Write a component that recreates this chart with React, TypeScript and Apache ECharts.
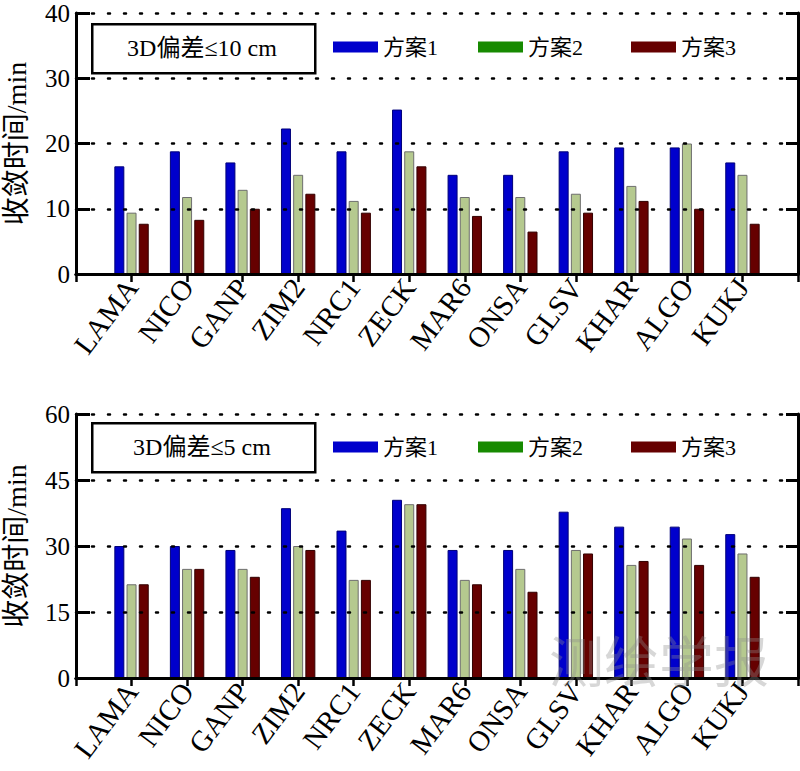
import React, { useEffect, useRef } from "react";
import * as echarts from "echarts";

const stations = ["LAMA", "NICO", "GANP", "ZIM2", "NRC1", "ZECK", "MAR6", "ONSA", "GLSV", "KHAR", "ALGO", "KUKJ"];
const seriesNames = ["方案1", "方案2", "方案3"];

// 3D bias <= 10 cm
const top1 = [16.5, 18.8, 17.1, 22.3, 18.8, 25.2, 15.2, 15.2, 18.8, 19.4, 19.4, 17.1];
const top2 = [9.4, 11.8, 12.9, 15.2, 11.2, 18.8, 11.8, 11.8, 12.3, 13.5, 20.0, 15.2];
const top3 = [7.7, 8.3, 10.0, 12.3, 9.4, 16.5, 8.9, 6.5, 9.4, 11.2, 10.0, 7.7];

// 3D bias <= 5 cm
const bot1 = [30.0, 30.0, 29.1, 38.6, 33.5, 40.5, 29.1, 29.1, 37.8, 34.4, 34.4, 32.7];
const bot2 = [21.3, 24.8, 24.8, 30.0, 22.3, 39.5, 22.3, 24.8, 29.1, 25.7, 31.7, 28.3];
const bot3 = [21.3, 24.8, 23.0, 29.1, 22.3, 39.5, 21.3, 19.6, 28.3, 26.6, 25.7, 23.0];

const titles = ["3D偏差≤10 cm", "3D偏差≤5 cm"];
const yTicks = [
  { max: 40, interval: 10 },
  { max: 60, interval: 15 },
];

const SERIF = "'Times New Roman', 'Liberation Serif', 'Noto Sans CJK SC', serif";
const barColors = ["#0000cc", "#b5c98f", "#660000"];
const barBorders = ["#00007a", "#6e6e6e", "#330000"];
const legendColors = ["#0000cc", "#178a00", "#660000"];

export default function App() {
  const ref = useRef<HTMLDivElement>(null);
  useEffect(() => {
    if (!ref.current) return;
    const chart = echarts.init(ref.current, undefined, { renderer: "svg" });
    const cats = ["", ...stations, ""];
    const pad = (arr: number[]) => ["-", ...arr, "-"];
    const grids = [
      { left: 76, right: 2, top: 13, height: 261, outerBoundsMode: "none", containLabel: false },
      { left: 76, right: 2, top: 414, height: 264, outerBoundsMode: "none", containLabel: false },
    ];
    const xAxis: any[] = [];
    const yAxis: any[] = [];
    grids.forEach((_, gi) => {
      xAxis.push({
        type: "category",
        gridIndex: gi,
        data: cats,
        boundaryGap: false,
        position: "bottom",
        axisLine: { lineStyle: { color: "#000", width: 3 } },
        axisTick: { show: false },
        axisLabel: {
          interval: 0,
          rotate: 53,
          fontFamily: SERIF,
          fontSize: 29,
          color: "#000",
          margin: 8,
        },
        splitLine: { show: false },
        z: 5,
      });
      xAxis.push({
        type: "category",
        gridIndex: gi,
        data: cats,
        boundaryGap: false,
        position: "top",
        axisLine: { lineStyle: { color: "#000", width: 3 } },
        axisTick: { show: true, inside: true, length: 8, lineStyle: { color: "#000", width: 2.5 } },
        axisLabel: { show: false },
        splitLine: { show: false },
        z: 5,
      });
      yAxis.push({
        type: "value",
        gridIndex: gi,
        min: 0,
        max: yTicks[gi].max,
        interval: yTicks[gi].interval,
        position: "left",
        name: "收敛时间/min",
        nameLocation: "middle",
        nameGap: 46,
        nameTextStyle: { fontFamily: SERIF, fontSize: 28, color: "#000" },
        axisLine: { show: true, lineStyle: { color: "#000", width: 3 } },
        axisTick: { show: true, inside: true, length: 14, lineStyle: { color: "#000", width: 3 } },
        axisLabel: { fontFamily: SERIF, fontSize: 25, color: "#000", margin: 6 },
        splitLine: {
          show: true,
          lineStyle: { color: "#000", width: 2.5, type: [2, 14], cap: "round" },
        },
        z: 5,
      });
      yAxis.push({
        type: "value",
        gridIndex: gi,
        min: 0,
        max: yTicks[gi].max,
        interval: yTicks[gi].interval,
        position: "right",
        axisLine: { show: true, lineStyle: { color: "#000", width: 3 } },
        axisTick: { show: true, inside: true, length: 12, lineStyle: { color: "#000", width: 3 } },
        axisLabel: { show: false },
        splitLine: { show: false },
        z: 5,
      });
    });

    const data = [
      [top1, top2, top3],
      [bot1, bot2, bot3],
    ];
    const series: any[] = [];
    data.forEach((group, gi) => {
      group.forEach((vals, si) => {
        series.push({
          type: "bar",
          name: seriesNames[si],
          xAxisIndex: gi * 2,
          yAxisIndex: gi * 2,
          data: pad(vals),
          barWidth: 10,
          barGap: "22%",
          itemStyle: { color: barColors[si], borderColor: barBorders[si], borderWidth: 1 },
        });
      });
    });

    const legendLeft = [333, 478, 631];
    const legendTop = [36, 436];
    const legend: any[] = [];
    legendTop.forEach((t) => {
      seriesNames.forEach((n, i) => {
        legend.push({
          left: legendLeft[i],
          top: t,
          padding: 0,
          itemWidth: 45,
          itemHeight: 11,
          selectedMode: false,
          icon: "rect",
          data: [{ name: n, itemStyle: { color: legendColors[i], borderWidth: 0 } }],
          textStyle: { fontFamily: SERIF, fontSize: 22, color: "#000", lineHeight: 22 },
        });
      });
    });

    const boxTop = [23, 422];
    const graphic: any[] = [];
    boxTop.forEach((bt, i) => {
      graphic.push({
        type: "rect",
        left: 91,
        top: bt,
        shape: { width: 223, height: 49 },
        style: { fill: "#fff", stroke: "#000", lineWidth: 2.5 },
        z: 10,
      });
      graphic.push({
        type: "text",
        x: 202,
        y: bt + 25,
        style: {
          text: titles[i],
          fontFamily: SERIF,
          fontSize: 24,
          fill: "#000",
          align: "center",
          verticalAlign: "middle",
        },
        z: 11,
      });
    });
    graphic.push({
      type: "text",
      x: 659,
      y: 658,
      style: {
        text: "测绘学报",
        fontFamily: "'Noto Sans CJK SC', sans-serif",
        fontSize: 55,
        fill: "rgba(140,140,140,0.35)",
        align: "center",
        verticalAlign: "middle",
      },
      z: 20,
    });

    chart.setOption({
      animation: false,
      backgroundColor: "#fff",
      grid: grids,
      xAxis,
      yAxis,
      legend,
      series,
      graphic,
    });
    return () => chart.dispose();
  }, []);
  return (
    <div
      ref={ref}
      style={{ position: "fixed", left: 0, top: 0, width: 800, height: 771, background: "#fff" }}
    />
  );
}
